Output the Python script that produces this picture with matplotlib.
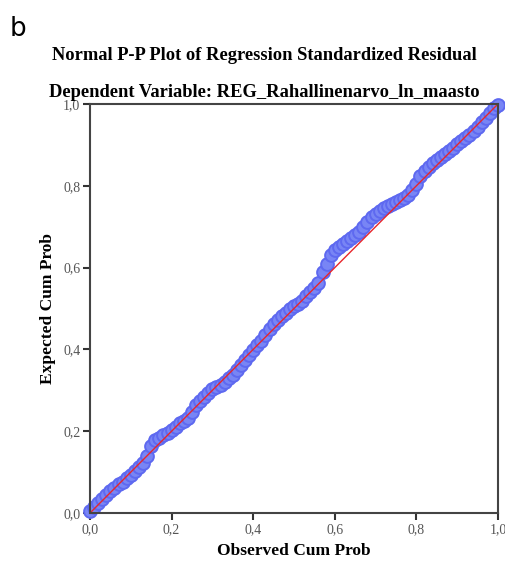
import matplotlib
matplotlib.use("Agg")
import matplotlib.pyplot as plt

# Observed vs expected cumulative probabilities
observed = [i / 100 for i in range(101)]
expected = [0.005, 0.015, 0.025, 0.035, 0.044, 0.054, 0.062, 0.070, 0.077, 0.086,
            0.094, 0.103, 0.112, 0.122, 0.140, 0.163, 0.178, 0.184, 0.190, 0.195,
            0.203, 0.211, 0.219, 0.226, 0.233, 0.248, 0.263, 0.275, 0.283, 0.293,
            0.302, 0.307, 0.313, 0.320, 0.329, 0.337, 0.350, 0.362, 0.374, 0.386,
            0.398, 0.410, 0.420, 0.435, 0.450, 0.462, 0.472, 0.482, 0.490, 0.498,
            0.506, 0.511, 0.518, 0.530, 0.540, 0.549, 0.562, 0.589, 0.610, 0.630,
            0.642, 0.650, 0.658, 0.666, 0.673, 0.679, 0.688, 0.700, 0.712, 0.723,
            0.732, 0.738, 0.745, 0.750, 0.756, 0.761, 0.766, 0.770, 0.778, 0.789,
            0.805, 0.823, 0.837, 0.845, 0.855, 0.863, 0.870, 0.877, 0.884, 0.893,
            0.903, 0.910, 0.916, 0.923, 0.933, 0.943, 0.955, 0.965, 0.978, 0.990,
            0.998]
ref_line = [0.0, 1.0]
ticks = [0.0, 0.2, 0.4, 0.6, 0.8, 1.0]
tick_labels = ["0,0", "0,2", "0,4", "0,6", "0,8", "1,0"]

title1 = "Normal P-P Plot of Regression Standardized Residual"
title2 = "Dependent Variable: REG_Rahallinenarvo_ln_maasto"

fig = plt.figure(figsize=(5.05, 5.61), dpi=100)
ax = fig.add_axes([90 / 505, 48 / 561, 408 / 505, 409 / 561])

ax.plot(observed, expected, linestyle="none", marker="o", ms=9.2,
        mfc=(0.47, 0.52, 0.96), mec=(0.37, 0.41, 0.94), mew=1.4, zorder=2,
        clip_on=False)
ax.plot(ref_line, ref_line, color="#e8262b", lw=1.0, zorder=3)

ax.set_xlim(0, 1)
ax.set_ylim(0, 1)
ax.set_xticks(ticks)
ax.set_yticks(ticks)
ax.set_xticklabels(tick_labels)
ax.set_yticklabels(tick_labels)
serif = ["Liberation Serif", "DejaVu Serif"]
for lab in ax.get_xticklabels() + ax.get_yticklabels():
    lab.set_family(serif)
    lab.set_fontsize(10)
    lab.set_color("#555555")
ax.tick_params(direction="out", length=5, width=1.5, color="#333333", pad=2)
for s in ax.spines.values():
    s.set_linewidth(1.5)
    s.set_color("#444444")
    s.set_zorder(4)

ax.set_xlabel("Observed Cum Prob", family=serif, fontweight="bold", fontsize=12.5, labelpad=5)
ax.set_ylabel("Expected Cum Prob", family=serif, fontweight="bold", fontsize=12.5, labelpad=5)

fig.text(264 / 505, 1 - 55 / 561, title1, family=serif, fontweight="bold",
         fontsize=13.3, ha="center", va="center")
fig.text(264 / 505, 1 - 92 / 561, title2, family=serif, fontweight="bold",
         fontsize=13.3, ha="center", va="center")
fig.text(10 / 505, 1 - 29 / 561, "b", family="DejaVu Sans", fontsize=19,
         ha="left", va="center")

fig.savefig("out.png", dpi=100)
